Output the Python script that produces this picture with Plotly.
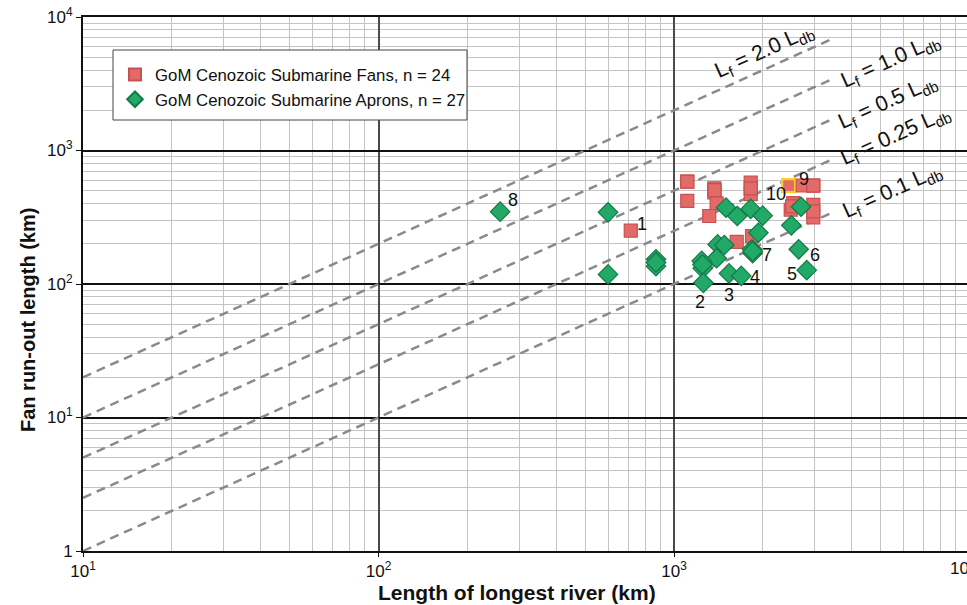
import math
import plotly.graph_objects as go

# Gulf of Mexico Cenozoic submarine fans: longest river length vs fan run-out length (km)
fan_river_km = [1109, 1109, 1369, 1369, 1394, 1316, 1818, 1818, 2443, 2726,
                2960, 2533, 2483, 2960, 2960, 714, 1630, 1837,
                1372, 1818, 2510, 2960, 2960, 1109]
fan_runout_km = [584, 419, 521, 486, 402, 323, 574, 472, 545, 547,
                 547, 404, 360, 391, 316, 251, 207, 228,
                 505, 520, 382, 350, 545, 584]

# Submarine aprons
apron_river_km = [598, 598, 869, 869, 258, 1500, 1637, 1818, 1996, 1929,
                  1405, 1480, 1394, 1241, 1251, 1257, 1535, 1689, 1837, 1846,
                  2495, 2642, 2813, 2691, 1846, 869, 1248]
apron_runout_km = [344, 118, 153, 136, 348, 373, 323, 365, 325, 242,
                   198, 196, 156, 149, 131, 102, 120, 115, 182, 170,
                   275, 182, 127, 379, 176, 145, 140]

# Reference ratios Lf = k * Ldb
ratios = [2.0, 1.0, 0.5, 0.25, 0.1]
ratio_labels = ["2.0", "1.0", "0.5", "0.25", "0.1"]
line_x_span = [10, 3500]
# label centres (river km, run-out km)
ratio_label_pos = [(2032, 5470), (5385, 4682), (5297, 2308), (5598, 1284), (5508, 489)]

# numbered examples: (text, series, index, dx, dy)
point_labels = [
    ("1", "fan", 15, 11, 7),
    ("10", "fan", 8, -13, -8),
    ("9", "fan", 8, 15, 7),
    ("8", "apron", 4, 13, 12),
    ("2", "apron", 15, -3, -19),
    ("3", "apron", 16, 0, -22),
    ("4", "apron", 17, 14, -1),
    ("7", "apron", 19, 14, -2),
    ("6", "apron", 21, 16, -6),
    ("5", "apron", 22, -15, -4),
]
highlight_fan = 8

y_ticks = [1, 10, 100, 1000, 10000]
y_ticktext = ["1", "10<sup>1</sup>", "10<sup>2</sup>", "10<sup>3</sup>", "10<sup>4</sup>"]
x_ticks = [10, 100, 1000]
x_ticktext = ["10<sup>1</sup>", "10<sup>2</sup>", "10<sup>3</sup>"]

FONT = "Liberation Sans, Arial, sans-serif"

# plot-area geometry in pixels
PL, PT, PW, PH = 83, 17, 884, 534


def px(xp):
    return (xp - PL) / PW


def py(yp):
    return 1 - (yp - PT) / PH


fig = go.Figure()

for k in ratios:
    fig.add_trace(go.Scatter(
        x=line_x_span, y=[k * v for v in line_x_span], mode="lines",
        line=dict(color="#8a8a8a", width=2.5, dash="9px,6px"),
        showlegend=False, hoverinfo="skip"))

fan_line_colors = ["#c9504f"] * len(fan_river_km)
fan_line_widths = [1.2] * len(fan_river_km)
fan_line_colors[highlight_fan] = "#ffd21f"
fan_line_widths[highlight_fan] = 2.2

fig.add_trace(go.Scatter(
    x=fan_river_km, y=fan_runout_km, mode="markers",
    name="GoM Cenozoic Submarine Fans, n = 24",
    marker=dict(symbol="square", size=13, color="#e26a68",
                line=dict(color=fan_line_colors, width=fan_line_widths))))

fig.add_trace(go.Scatter(
    x=apron_river_km, y=apron_runout_km, mode="markers",
    name="GoM Cenozoic Submarine Aprons, n = 27",
    marker=dict(symbol="diamond", size=15, color="#22a867",
                line=dict(color="#137a46", width=1.2))))

annotations = []
# annotations on log axes take log10 positions
for (lbl, (lx, ly)) in zip(ratio_labels, ratio_label_pos):
    annotations.append(dict(
        x=math.log10(lx), y=math.log10(ly), xref="x", yref="y", showarrow=False,
        textangle=-24.3, xanchor="center", yanchor="middle",
        text=f"L<sub>f</sub> = {lbl} L<sub>db</sub>",
        font=dict(family=FONT, size=21.5, color="#111")))

series = {"fan": (fan_river_km, fan_runout_km), "apron": (apron_river_km, apron_runout_km)}
for text, s, i, dx, dy in point_labels:
    xs, ys = series[s]
    annotations.append(dict(
        x=math.log10(xs[i]), y=math.log10(ys[i]), xref="x", yref="y", showarrow=False,
        text=text, xanchor="center", yanchor="middle",
        xshift=dx, yshift=dy, font=dict(family=FONT, size=18, color="#111")))

# axis titles and the clipped 10^4 tick at the right edge
annotations.append(dict(
    x=px(28), y=py(320), xref="paper", yref="paper",
    xanchor="center", yanchor="middle",
    showarrow=False, textangle=-90, text="<b>Fan run-out length (km)</b>",
    font=dict(family=FONT, size=20, color="#111")))
annotations.append(dict(
    x=px(517), y=py(592), xref="paper", yref="paper",
    xanchor="center", yanchor="middle",
    showarrow=False, text="<b>Length of longest river (km)</b>",
    font=dict(family=FONT, size=21, color="#111")))
annotations.append(dict(
    x=px(963), y=py(567), xref="paper", yref="paper",
    xanchor="center", yanchor="middle",
    showarrow=False, text="10<sup>4</sup>",
    font=dict(family=FONT, size=17, color="#111")))

# legend frame
shapes = [dict(type="rect", xref="paper", yref="paper",
               x0=px(113), x1=px(467), y0=py(120), y1=py(50),
               fillcolor="white", line=dict(color="#444", width=1), layer="above")]

fig.update_layout(
    width=967, height=605,
    margin=dict(l=PL, r=0, t=PT, b=605 - PT - PH),
    paper_bgcolor="white", plot_bgcolor="white",
    font=dict(family=FONT, size=17, color="#111"),
    showlegend=True,
    legend=dict(x=px(115), y=py(57), xanchor="left", yanchor="top",
                bgcolor="rgba(0,0,0,0)", borderwidth=0, itemwidth=30,
                font=dict(family=FONT, size=16.8, color="#111"),
                itemsizing="constant", tracegroupgap=0),
    annotations=annotations,
    shapes=shapes,
)

fig.update_xaxes(
    type="log", range=[1, 1 + PW / 295.5],
    tickvals=x_ticks, ticktext=x_ticktext, ticks="outside", ticklen=4,
    tickcolor="#111",
    showgrid=True, gridcolor="#4a4a4a", gridwidth=1.5,
    minor=dict(dtick="D1", showgrid=True, gridcolor="#c4c4c4", gridwidth=1, ticks=""),
    showline=True, linecolor="#111", linewidth=2, mirror=True,
    zeroline=False,
)
fig.update_yaxes(
    type="log", range=[0, 4],
    tickvals=y_ticks, ticktext=y_ticktext, ticks="outside", ticklen=5,
    tickcolor="#111",
    showgrid=True, gridcolor="#111", gridwidth=2,
    minor=dict(dtick="D1", showgrid=True, gridcolor="#c4c4c4", gridwidth=1, ticks=""),
    showline=True, linecolor="#111", linewidth=2, mirror=False,
    zeroline=False,
)

fig.write_html("out.html")
